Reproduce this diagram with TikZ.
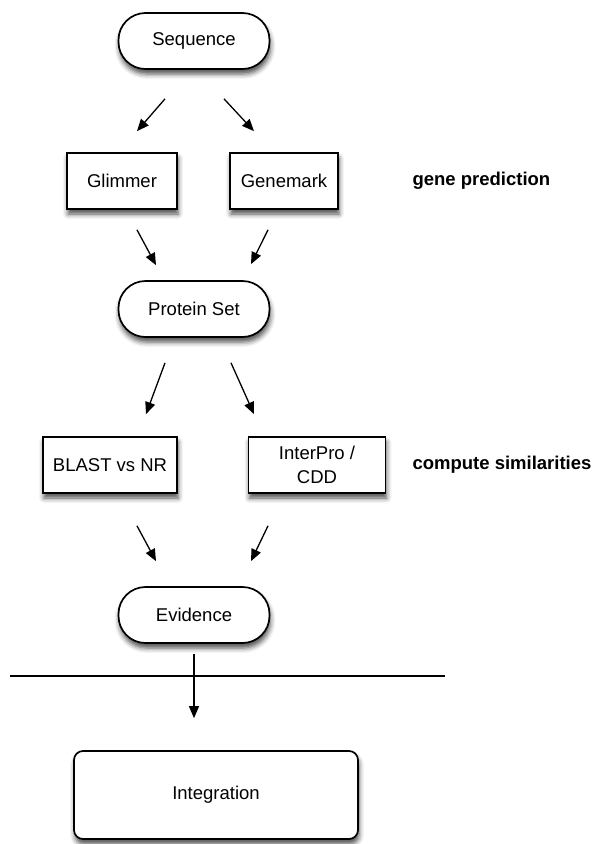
\documentclass[tikz,border=0pt]{standalone}
\usepackage{fontspec}
\setmainfont{Liberation Sans}
\usepackage{tikz}
\usetikzlibrary{arrows.meta,shadows.blur}

\tikzset{
  box/.style={draw, line width=1.7pt, fill=white, inner sep=0pt,
    align=center, font=\fontsize{18.5}{24}\selectfont,
    blur shadow={shadow xshift=1pt, shadow yshift=-5pt, shadow blur radius=5pt, shadow opacity=70}},
  pill/.style={box, rounded corners=27pt, minimum width=151pt, minimum height=56pt},
  proc/.style={box, minimum height=56pt},
  arr/.style={-{Triangle[length=12pt,width=10pt]}, line width=1.3pt},
  phase/.style={font=\fontsize{18.5}{22}\selectfont\bfseries, anchor=west}
}

\begin{document}
\begin{tikzpicture}[x=1pt,y=1pt]
                \useasboundingbox (0,0) rectangle (592,-844);
                % Draw the nodes
                \node[pill] (seq) at (194,-41) {Sequence};
                \node[proc, minimum width=110pt] (glim) at (122,-181) {Glimmer};
                \node[proc, minimum width=108pt] (gmark) at (284,-181) {Genemark};
                \node[pill] (prot) at (194,-309) {Protein Set};
                \node[proc, minimum width=134pt] (blast) at (110,-465) {BLAST vs NR};
                \node[proc, minimum width=137pt] (ipro) at (317,-465) {InterPro /\\CDD};
                \node[pill] (evid) at (194,-615) {Evidence};
                \node[box, rounded corners=9pt, minimum width=284pt, minimum height=88pt] (integ) at (216,-795) {Integration};
                % Phase labels
                \node[phase] (gpred) at (409,-181) {gene prediction};
                \node[phase] (csim) at (409,-465) {compute similarities};
                % The arrows between the steps
                \draw[arr] ([xshift=-29pt,yshift=-29pt]seq.south) -- ([xshift=15pt,yshift=21pt]glim.north);
                \draw[arr] ([xshift=30pt,yshift=-29pt]seq.south) -- ([xshift=-30pt,yshift=21pt]gmark.north);
                \draw[arr] ([xshift=15pt,yshift=-20pt]glim.south) -- ([xshift=-38pt,yshift=15pt]prot.north);
                \draw[arr] ([xshift=-16pt,yshift=-20pt]gmark.south) -- ([xshift=57pt,yshift=16pt]prot.north);
                \draw[arr] ([xshift=-29pt,yshift=-25pt]prot.south) -- ([xshift=36pt,yshift=22pt]blast.north);
                \draw[arr] ([xshift=37pt,yshift=-25pt]prot.south) -- ([xshift=-63pt,yshift=22pt]ipro.north);
                \draw[arr] ([xshift=27pt,yshift=-32pt]blast.south) -- ([xshift=-38pt,yshift=25pt]evid.north);
                \draw[arr] ([xshift=-49pt,yshift=-32pt]ipro.south) -- ([xshift=57pt,yshift=25pt]evid.north);
                % The dividing line and the last step
                \coordinate (divl) at (10,-676);
                \coordinate (divr) at (445,-676);
                \draw[line width=1.3pt] (divl) -- (divr);
                \coordinate (intin) at ([xshift=-22pt,yshift=32pt]integ.north);
                \draw[arr] ([yshift=-10pt]evid.south) -- (intin);
            \end{tikzpicture}
\end{document}
